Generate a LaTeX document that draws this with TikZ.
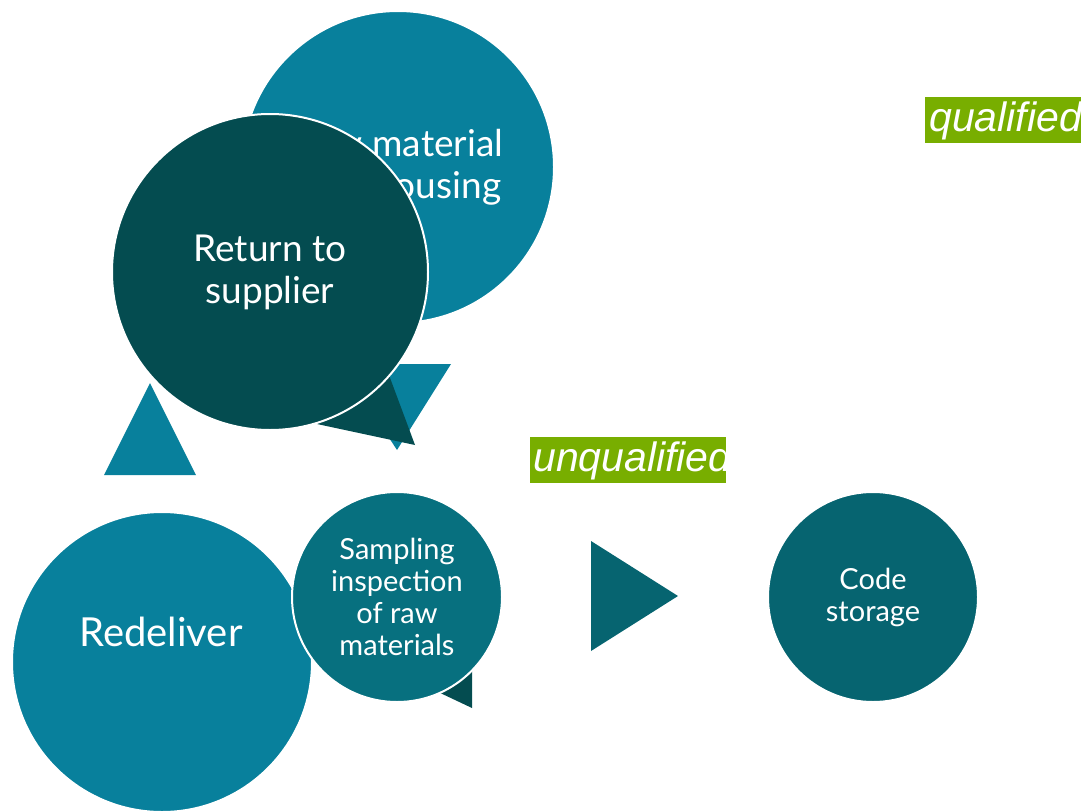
\documentclass[tikz,border=0pt]{standalone}
\usepackage{fontspec}
\setmainfont{Lato}
\newfontfamily\tagfont{Liberation Sans}
\definecolor{cteal}{HTML}{08809C}
\definecolor{cdark}{HTML}{044C50}
\definecolor{csamp}{HTML}{07707F}
\definecolor{ccode}{HTML}{066470}
\definecolor{lgreen}{HTML}{78AE00}
\begin{document}
\begin{tikzpicture}[x=1pt,y=-1pt,
  circ/.style={circle,inner sep=0pt,draw=white,line width=2pt,text=white,align=center},
  tagbox/.style={fill=lgreen,draw=none},
  tagtext/.style={text=white,inner sep=0pt,anchor=west,font=\tagfont\fontsize{41}{44}\selectfont\itshape}]
\useasboundingbox (0,0) rectangle (1081,811);
\clip (0,0) rectangle (1081,811);
% raw material warehousing
\node[circ,fill=cteal,minimum size=312pt,font=\fontsize{37}{42}\selectfont] (raw) at (398,167) {Raw material\\warehousing};
% triangles behind return circle
\fill[cteal] (341,364) -- (451,364) -- (397,450) -- cycle;
\fill[cteal] (104,475) -- (196,475) -- (150,383) -- cycle;
\fill[cdark] (317,424) -- (380,351) -- (415,445) -- cycle;
% return to supplier
\node[circ,fill=cdark,minimum size=316pt,font=\fontsize{37}{42}\selectfont] (ret) at (270,272) {Return to\\supplier};
% redeliver
\node[circ,fill=cteal,minimum size=300pt] (red) at (162,662) {};
\node[text=white,font=\fontsize{40}{44}\selectfont] (redtext) at (161,632) {Redeliver};
% sampling pointer and circle
\fill[cdark] (472,708) -- (400,674) -- (472,620) -- cycle;
\node[circ,fill=csamp,minimum size=210pt,font=\fontsize{29}{32}\selectfont] (samp) at (397,597) {Sampling\\inspection\\of raw\\materials};
% right arrow triangle
\fill[ccode] (591,541) -- (591,651) -- (678,596) -- cycle;
% code storage
\node[circ,fill=ccode,minimum size=210pt,font=\fontsize{29}{32}\selectfont] (code) at (873,597) {Code\\storage};
% tags
\fill[tagbox] (925,97) rectangle (1090,143);
\node[tagtext] (qual) at (929,121) {qualified};
\fill[tagbox] (530,437) rectangle (726,483);
\begin{scope}
\clip (530,437) rectangle (726,483);
\node[tagtext] (unqual) at (533,461) {unqualified};
\end{scope}
\end{tikzpicture}
\end{document}
